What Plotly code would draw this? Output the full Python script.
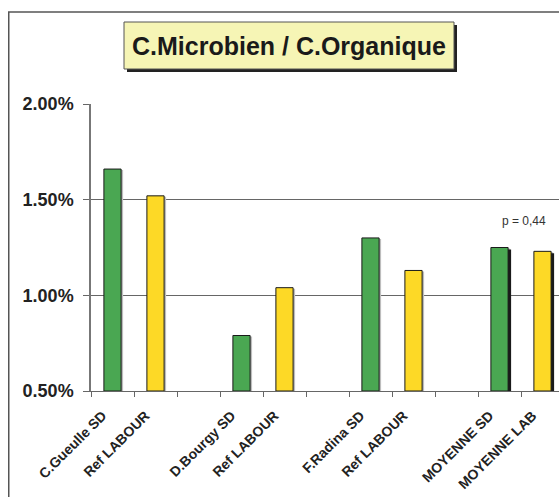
import plotly.graph_objects as go

# ---- data ----
slots = list(range(11))
labels = ["C.Gueulle SD", "Ref LABOUR", "", "D.Bourgy SD", "Ref LABOUR", "",
          "F.Radina SD", "Ref LABOUR", "", "MOYENNE SD", "MOYENNE LAB"]
green_x = [0, 3, 6, 9]
green_y = [0.0166, 0.0079, 0.0130, 0.0125]
yellow_x = [1, 4, 7, 10]
yellow_y = [0.0152, 0.0104, 0.0113, 0.0123]
mean_x = [9, 10]
mean_y = [0.0125, 0.0123]
y_ticks = [0.005, 0.010, 0.015, 0.020]
p_text = "p = 0,44"

W, H = 559, 497
ML, MR, MT = 91, 0, 104
MB = H - 391
PW, PH = W - ML - MR, H - MT - MB
YMIN, YMAX = 0.005, 0.020
XMIN, XMAX = -0.5, -0.5 + PW / 43.0

def px_to_paper_x(px):
    return (px - ML) / PW

def px_to_paper_y(py):
    return (H - MB - py) / PH

dy = (YMAX - YMIN) / PH  # data per pixel
dx = (XMAX - XMIN) / PW

GREEN = "#4aa752"
YELLOW = "#fdd926"
BW = 0.4
FONT = "Liberation Sans, Arial, sans-serif"

fig = go.Figure()

# light shadows for all bars
fig.add_trace(go.Bar(x=green_x + yellow_x, y=[v - YMIN - 1 * dy for v in green_y + yellow_y],
                     base=YMIN, width=BW, offset=-BW / 2 + 2 * dx,
                     marker=dict(color="#bdbdbd", line=dict(width=0)),
                     hoverinfo="skip", showlegend=False))
# dark shadows for mean bars
fig.add_trace(go.Bar(x=mean_x, y=[v - YMIN - 2 * dy for v in mean_y],
                     base=YMIN, width=BW, offset=-BW / 2 + 3 * dx,
                     marker=dict(color="#1a1a1a", line=dict(width=0)),
                     hoverinfo="skip", showlegend=False))
fig.add_trace(go.Bar(x=green_x, y=[v - YMIN for v in green_y], base=YMIN,
                     width=BW, offset=-BW / 2,
                     marker=dict(color=GREEN, line=dict(color="#1a1a1a", width=1)),
                     showlegend=False))
fig.add_trace(go.Bar(x=yellow_x, y=[v - YMIN for v in yellow_y], base=YMIN,
                     width=BW, offset=-BW / 2,
                     marker=dict(color=YELLOW, line=dict(color="#1a1a1a", width=1)),
                     showlegend=False))

fig.update_layout(
    width=W, height=H,
    margin=dict(l=ML, r=MR, t=MT, b=MB, pad=0, autoexpand=False),
    paper_bgcolor="white", plot_bgcolor="white",
    barmode="overlay",
    font=dict(family=FONT, color="#222"),
    xaxis=dict(
        range=[XMIN, XMAX], tickmode="array", tickvals=slots, ticktext=labels,
        tickangle=-45, ticks="", showgrid=False, zeroline=False, automargin=False,
        showline=True, linecolor="#666", linewidth=1,
        ticklabelshift=-10, ticklabelstandoff=10,
        tickfont=dict(size=14, family=FONT, color="#222", weight="bold"),
        minor=dict(ticks="outside", tickmode="linear", tick0=0.5, dtick=1,
                   ticklen=5, tickcolor="#666", tickwidth=1, showgrid=False),
    ),
    yaxis=dict(
        range=[YMIN, YMAX], tickmode="array", tickvals=y_ticks, tickformat=".2%",
        ticks="outside", ticklen=6, tickcolor="#666", tickwidth=1, automargin=False,
        showgrid=True, gridcolor="#666", gridwidth=1, zeroline=False,
        showline=True, linecolor="#777", linewidth=1.5,
        ticklabelstandoff=6,
        tickfont=dict(size=18, family=FONT, color="#222", weight="bold"),
    ),
    shapes=[
        # outer frame
        dict(type="rect", xref="paper", yref="paper",
             x0=px_to_paper_x(8.75), x1=px_to_paper_x(W + 40),
             y0=px_to_paper_y(H + 40), y1=px_to_paper_y(12),
             line=dict(color="#555", width=1.5), fillcolor="rgba(0,0,0,0)", layer="below"),
        # title shadow
        dict(type="rect", xref="paper", yref="paper",
             x0=px_to_paper_x(127), x1=px_to_paper_x(457),
             y0=px_to_paper_y(72), y1=px_to_paper_y(25),
             line=dict(width=0), fillcolor="#222"),
        # title box
        dict(type="rect", xref="paper", yref="paper",
             x0=px_to_paper_x(124), x1=px_to_paper_x(454),
             y0=px_to_paper_y(69), y1=px_to_paper_y(22),
             line=dict(color="#555", width=1), fillcolor="#f6f5b5"),
    ],
    annotations=[
        dict(text="<b>C.Microbien / C.Organique</b>", xref="paper", yref="paper",
             x=px_to_paper_x(289), y=px_to_paper_y(45.5), showarrow=False,
             xanchor="center", yanchor="middle",
             font=dict(size=25, color="#1a1a1a", family=FONT)),
        dict(text=p_text, x=9.56, y=0.0139, xref="x", yref="y", showarrow=False,
             xanchor="center", yanchor="middle",
             font=dict(size=12, color="#333", family=FONT)),
    ],
)

fig.write_html(
    "out.html",
    config={"displayModeBar": False},
    post_script="document.body.style.margin='0';document.body.style.overflow='hidden';"
                "document.documentElement.style.overflow='hidden';",
)
